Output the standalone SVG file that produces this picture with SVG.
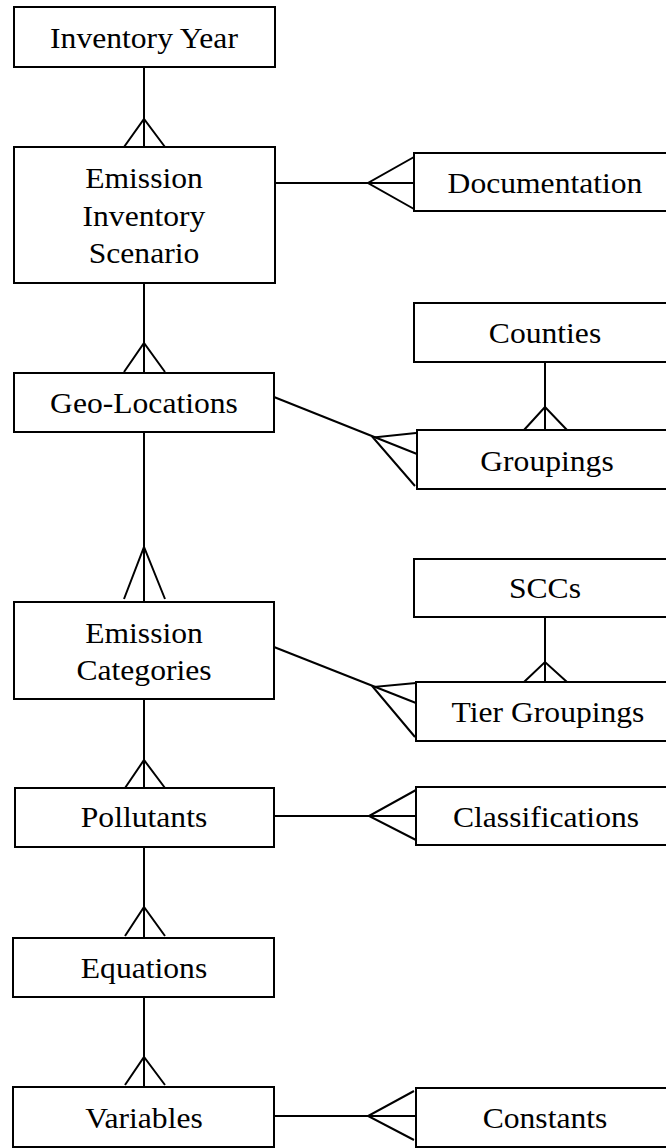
<svg xmlns="http://www.w3.org/2000/svg" width="666" height="1148" viewBox="0 0 666 1148">
<style>
.box{fill:#fff;stroke:#000;stroke-width:2}
.lbl{font-family:"Liberation Serif","Times New Roman",serif;font-size:29px;fill:#000;text-anchor:middle;transform-box:fill-box;transform-origin:center;transform:scaleX(1.09)}
#connectors line,#connectors polyline{fill:none;stroke:#000;stroke-width:2}
</style>
<rect width="666" height="1148" fill="#fff"/>
<g id="connectors">
<line x1="144" y1="67" x2="144" y2="147"/><polyline points="124,147 144,119 165,147"/>
<line x1="275" y1="183" x2="414" y2="183"/><polyline points="414,157 368,183 414,209"/>
<line x1="144" y1="283" x2="144" y2="373"/><polyline points="124,372 144,343 165,372"/>
<line x1="274" y1="397" x2="417" y2="454"/><polyline points="416,433 373,437.5 415,486"/>
<line x1="545" y1="362" x2="545" y2="430"/><polyline points="524,430 545,407 567,430"/>
<line x1="144" y1="432" x2="144" y2="602"/><polyline points="124,599 144,547 165,599"/>
<line x1="274" y1="647" x2="416" y2="703"/><polyline points="416,683 373,687 415,737"/>
<line x1="545" y1="617" x2="545" y2="682"/><polyline points="524,682 545,662 567,682"/>
<line x1="144" y1="699" x2="144" y2="788"/><polyline points="125,788 144,760 165,788"/>
<line x1="274" y1="816" x2="416" y2="816"/><polyline points="416,790 369,816 416,840"/>
<line x1="144" y1="847" x2="144" y2="938"/><polyline points="125,936 144,907 165,936"/>
<line x1="144" y1="997" x2="144" y2="1087"/><polyline points="125,1085 144,1057 165,1085"/>
<line x1="274" y1="1116" x2="416" y2="1116"/><polyline points="414,1091 368,1116 414,1140"/>
</g>
<g id="inventory-year"><rect class="box" x="14" y="7" width="261" height="60"/><text class="lbl" x="144" y="48">Inventory Year</text></g>
<g id="scenario"><rect class="box" x="14" y="147" width="261" height="136"/><text class="lbl" x="144" y="188">Emission</text><text class="lbl" x="144" y="226">Inventory</text><text class="lbl" x="144" y="263">Scenario</text></g>
<g id="documentation"><rect class="box" x="414" y="153" width="262" height="58"/><text class="lbl" x="545" y="193">Documentation</text></g>
<g id="counties"><rect class="box" x="414" y="303" width="262" height="59"/><text class="lbl" x="545" y="343">Counties</text></g>
<g id="geo-locations"><rect class="box" x="14" y="373" width="260" height="59"/><text class="lbl" x="144" y="413">Geo-Locations</text></g>
<g id="groupings"><rect class="box" x="417" y="430" width="259" height="59"/><text class="lbl" x="547" y="471">Groupings</text></g>
<g id="scc"><rect class="box" x="414" y="559" width="262" height="58"/><text class="lbl" x="545" y="598">SCCs</text></g>
<g id="categories"><rect class="box" x="14" y="602" width="260" height="97"/><text class="lbl" x="144" y="643">Emission</text><text class="lbl" x="144" y="680">Categories</text></g>
<g id="tier-groupings"><rect class="box" x="416" y="682" width="260" height="59"/><text class="lbl" x="548" y="722">Tier Groupings</text></g>
<g id="pollutants"><rect class="box" x="15" y="788" width="259" height="59"/><text class="lbl" x="144" y="827">Pollutants</text></g>
<g id="classifications"><rect class="box" x="416" y="787" width="260" height="58"/><text class="lbl" x="546" y="827">Classifications</text></g>
<g id="equations"><rect class="box" x="13" y="938" width="261" height="59"/><text class="lbl" x="144" y="978">Equations</text></g>
<g id="variables"><rect class="box" x="13" y="1087" width="261" height="60"/><text class="lbl" x="144" y="1128">Variables</text></g>
<g id="constants"><rect class="box" x="416" y="1088" width="260" height="59"/><text class="lbl" x="545" y="1128">Constants</text></g>
</svg>
